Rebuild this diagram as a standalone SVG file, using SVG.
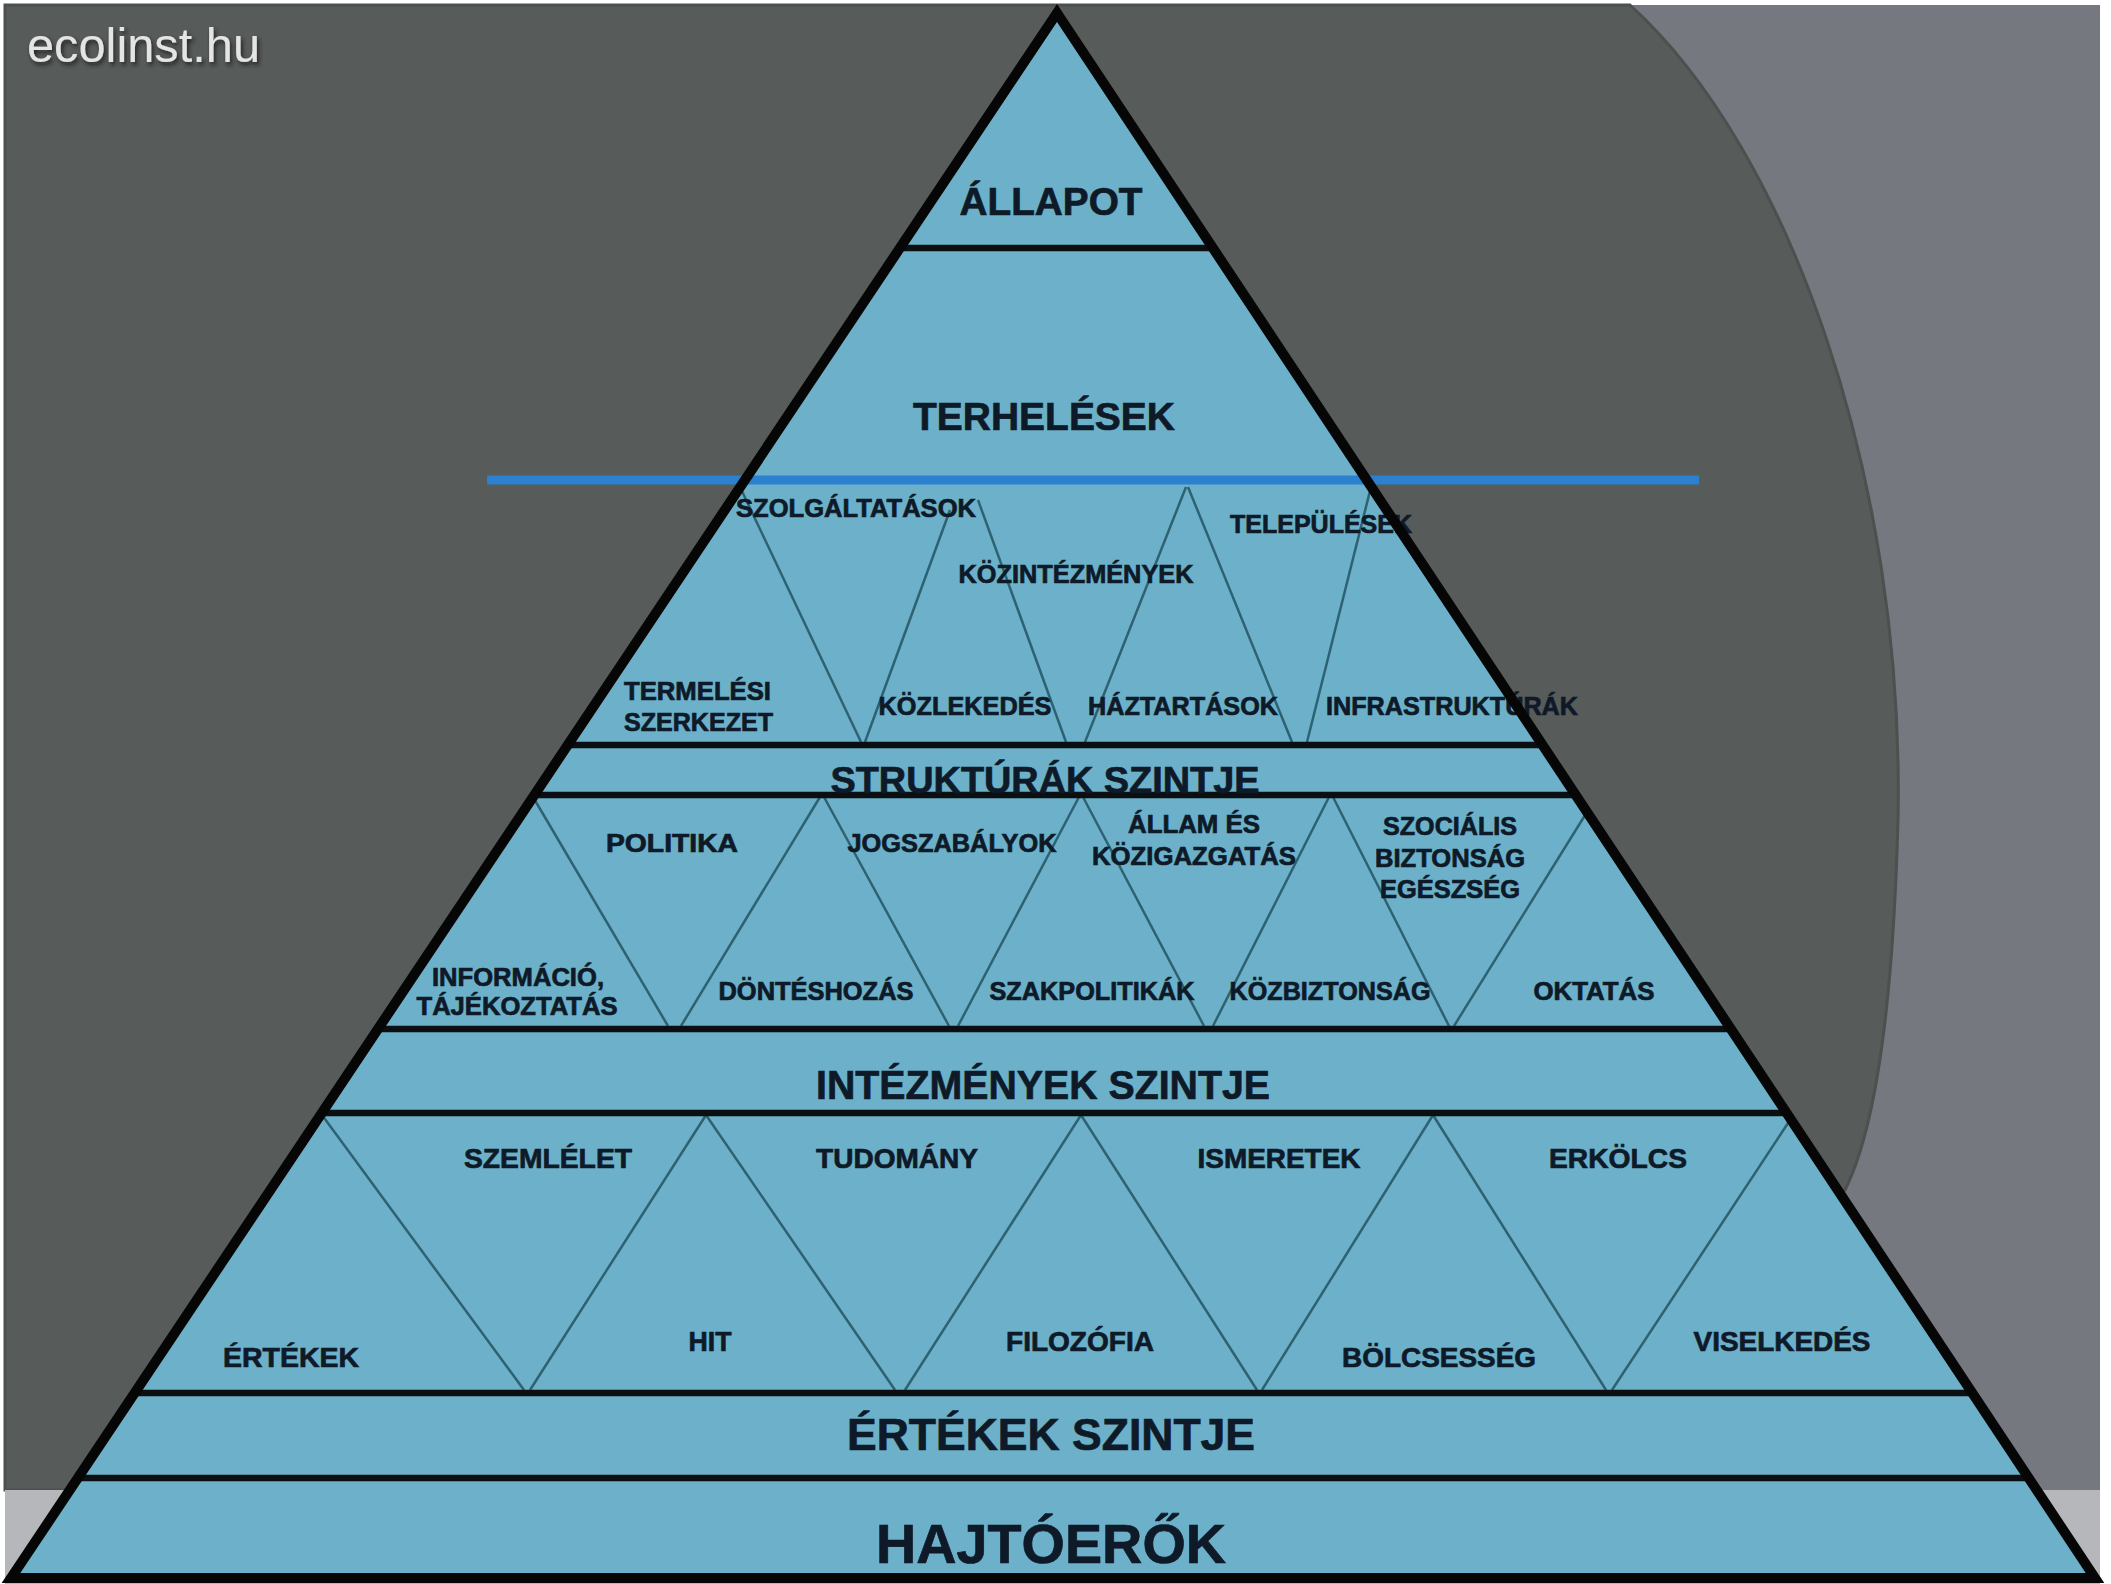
<svg xmlns="http://www.w3.org/2000/svg" width="2111" height="1584" viewBox="0 0 2111 1584">
<style>
.t{font-family:"Liberation Sans",Arial,sans-serif;font-weight:bold;fill:#0e1a28;stroke:#0e1a28;stroke-width:0.7;text-anchor:middle}
.s{font-size:25px}
.m{font-size:28px}
.tl{text-anchor:start}
.hl{stroke:#0b0f12;stroke-width:6.5;fill:none}
.zz{stroke:#2e6272;stroke-width:2.5;fill:none}
</style>
<defs>
<clipPath id="pyr"><polygon points="1057,13 11,1578 2095,1578"/></clipPath>
<filter id="sh" x="-10%" y="-30%" width="130%" height="180%"><feDropShadow dx="2" dy="3" stdDeviation="2" flood-color="#1a1a1a" flood-opacity="0.9"/></filter>
</defs>
<g id="background">
<rect x="0" y="0" width="2111" height="1584" fill="#ffffff"/>
<rect x="5" y="5" width="2095" height="1579" fill="#76787f"/>
<path d="M5,5 H1630 C1790,150 1905,480 1898,820 C1893,1010 1875,1130 1845,1190 L1500,1490 L5,1490 Z" fill="#575b59" stroke="#4c504f" stroke-width="3"/>
<rect x="5" y="1490" width="2095" height="94" fill="#b6b7bb"/>
<text x="27" y="62" font-family="Liberation Sans, Arial, sans-serif" font-size="48" fill="#e4e4e4" textLength="233" lengthAdjust="spacingAndGlyphs" filter="url(#sh)">ecolinst.hu</text>
</g>
<g id="pyramid-body">
<polygon points="1057,13 11,1578 2095,1578" fill="#6cb1c9"/>
</g>
<g id="connectors" clip-path="url(#pyr)">
<line class="zz" x1="740" y1="487" x2="861" y2="742"/>
<line class="zz" x1="865" y1="742" x2="950" y2="510"/>
<line class="zz" x1="978" y1="500" x2="1066" y2="742"/>
<line class="zz" x1="1085" y1="742" x2="1186" y2="487"/>
<line class="zz" x1="1188" y1="487" x2="1292" y2="742"/>
<line class="zz" x1="1307" y1="742" x2="1371" y2="487"/>
<line class="zz" x1="533" y1="797" x2="668" y2="1026"/>
<line class="zz" x1="681" y1="1026" x2="820" y2="797"/>
<line class="zz" x1="824" y1="797" x2="949" y2="1026"/>
<line class="zz" x1="958" y1="1026" x2="1079" y2="797"/>
<line class="zz" x1="1083" y1="797" x2="1204" y2="1026"/>
<line class="zz" x1="1213" y1="1026" x2="1329" y2="797"/>
<line class="zz" x1="1333" y1="797" x2="1449" y2="1026"/>
<line class="zz" x1="1454" y1="1026" x2="1587" y2="812"/>
<line class="zz" x1="322" y1="1115" x2="524" y2="1390"/>
<line class="zz" x1="530" y1="1390" x2="706" y2="1115"/>
<line class="zz" x1="706" y1="1115" x2="895" y2="1390"/>
<line class="zz" x1="905" y1="1390" x2="1081" y2="1115"/>
<line class="zz" x1="1081" y1="1115" x2="1257" y2="1390"/>
<line class="zz" x1="1262" y1="1390" x2="1433" y2="1115"/>
<line class="zz" x1="1433" y1="1115" x2="1606" y2="1390"/>
<line class="zz" x1="1612" y1="1390" x2="1792" y2="1117"/>
</g>
<g id="level-lines" clip-path="url(#pyr)">
<line class="hl" x1="0" y1="248" x2="2111" y2="248"/>
<line class="hl" x1="0" y1="745" x2="2111" y2="745"/>
<line class="hl" x1="0" y1="795" x2="2111" y2="795"/>
<line class="hl" x1="0" y1="1029" x2="2111" y2="1029"/>
<line class="hl" x1="0" y1="1113" x2="2111" y2="1113"/>
<line class="hl" x1="0" y1="1393" x2="2111" y2="1393"/>
<line class="hl" x1="0" y1="1478" x2="2111" y2="1478"/>
</g>
<g id="divider-blue">
<line x1="487" y1="480" x2="1699" y2="480" stroke="#2b80cf" stroke-width="9"/>
</g>
<g id="level-allapot"><text class="t" x="1051" y="215" font-size="38" textLength="183" lengthAdjust="spacingAndGlyphs">ÁLLAPOT</text></g>
<g id="level-terhelesek"><text class="t" x="1044" y="430" font-size="39" textLength="262" lengthAdjust="spacingAndGlyphs">TERHELÉSEK</text></g>
<g id="structures">
<g id="n-szolgaltatasok"><text class="t s" x="856" y="517" textLength="240" lengthAdjust="spacingAndGlyphs">SZOLGÁLTATÁSOK</text></g>
<g id="n-kozintezmenyek"><text class="t s" x="1076" y="583" textLength="235" lengthAdjust="spacingAndGlyphs">KÖZINTÉZMÉNYEK</text></g>
<g id="n-telepulesek"><text class="t s tl" x="1230" y="533" textLength="182" lengthAdjust="spacingAndGlyphs">TELEPÜLÉSEK</text></g>
<g id="n-termelesi"><text class="t s tl" x="624" y="700" textLength="147" lengthAdjust="spacingAndGlyphs">TERMELÉSI</text><text class="t s tl" x="624" y="731" textLength="149" lengthAdjust="spacingAndGlyphs">SZERKEZET</text></g>
<g id="n-kozlekedes"><text class="t s" x="965" y="715" textLength="173" lengthAdjust="spacingAndGlyphs">KÖZLEKEDÉS</text></g>
<g id="n-haztartasok"><text class="t s" x="1183" y="715" textLength="190" lengthAdjust="spacingAndGlyphs">HÁZTARTÁSOK</text></g>
<g id="n-infrastrukturak"><text class="t s tl" x="1326" y="715" textLength="252" lengthAdjust="spacingAndGlyphs">INFRASTRUKTÚRÁK</text></g>
</g>
<g id="level-strukturak"><text class="t" x="1045" y="793" font-size="37" textLength="429" lengthAdjust="spacingAndGlyphs">STRUKTÚRÁK SZINTJE</text></g>
<g id="institutions">
<g id="n-politika"><text class="t s" x="672" y="852" textLength="132" lengthAdjust="spacingAndGlyphs">POLITIKA</text></g>
<g id="n-jogszabalyok"><text class="t s" x="952" y="852" textLength="209" lengthAdjust="spacingAndGlyphs">JOGSZABÁLYOK</text></g>
<g id="n-allam"><text class="t s" x="1194" y="833" textLength="132" lengthAdjust="spacingAndGlyphs">ÁLLAM ÉS</text><text class="t s" x="1194" y="865" textLength="204" lengthAdjust="spacingAndGlyphs">KÖZIGAZGATÁS</text></g>
<g id="n-szocialis"><text class="t s" x="1450" y="835" textLength="134" lengthAdjust="spacingAndGlyphs">SZOCIÁLIS</text><text class="t s" x="1450" y="867" textLength="150" lengthAdjust="spacingAndGlyphs">BIZTONSÁG</text><text class="t s" x="1450" y="898" textLength="140" lengthAdjust="spacingAndGlyphs">EGÉSZSÉG</text></g>
<g id="n-informacio"><text class="t s" x="518" y="986" textLength="172" lengthAdjust="spacingAndGlyphs">INFORMÁCIÓ,</text><text class="t s" x="517" y="1015" textLength="201" lengthAdjust="spacingAndGlyphs">TÁJÉKOZTATÁS</text></g>
<g id="n-donteshozas"><text class="t s" x="816" y="1000" textLength="195" lengthAdjust="spacingAndGlyphs">DÖNTÉSHOZÁS</text></g>
<g id="n-szakpolitikak"><text class="t s" x="1092" y="1000" textLength="205" lengthAdjust="spacingAndGlyphs">SZAKPOLITIKÁK</text></g>
<g id="n-kozbiztonsag"><text class="t s" x="1330" y="1000" textLength="201" lengthAdjust="spacingAndGlyphs">KÖZBIZTONSÁG</text></g>
<g id="n-oktatas"><text class="t s" x="1594" y="1000" textLength="121" lengthAdjust="spacingAndGlyphs">OKTATÁS</text></g>
</g>
<g id="level-intezmenyek"><text class="t" x="1043" y="1099" font-size="41" textLength="454" lengthAdjust="spacingAndGlyphs">INTÉZMÉNYEK SZINTJE</text></g>
<g id="values">
<g id="n-szemlelet"><text class="t m" x="548" y="1168" textLength="168" lengthAdjust="spacingAndGlyphs">SZEMLÉLET</text></g>
<g id="n-tudomany"><text class="t m" x="897" y="1168" textLength="162" lengthAdjust="spacingAndGlyphs">TUDOMÁNY</text></g>
<g id="n-ismeretek"><text class="t m" x="1279" y="1168" textLength="163" lengthAdjust="spacingAndGlyphs">ISMERETEK</text></g>
<g id="n-erkolcs"><text class="t m" x="1618" y="1168" textLength="138" lengthAdjust="spacingAndGlyphs">ERKÖLCS</text></g>
<g id="n-ertekek"><text class="t m" x="291" y="1367" textLength="136" lengthAdjust="spacingAndGlyphs">ÉRTÉKEK</text></g>
<g id="n-hit"><text class="t m" x="710" y="1351" textLength="43" lengthAdjust="spacingAndGlyphs">HIT</text></g>
<g id="n-filozofia"><text class="t m" x="1080" y="1351" textLength="148" lengthAdjust="spacingAndGlyphs">FILOZÓFIA</text></g>
<g id="n-bolcsesseg"><text class="t m" x="1439" y="1367" textLength="194" lengthAdjust="spacingAndGlyphs">BÖLCSESSÉG</text></g>
<g id="n-viselkedes"><text class="t m" x="1782" y="1351" textLength="177" lengthAdjust="spacingAndGlyphs">VISELKEDÉS</text></g>
</g>
<g id="level-ertekek"><text class="t" x="1051" y="1450" font-size="44" textLength="408" lengthAdjust="spacingAndGlyphs">ÉRTÉKEK SZINTJE</text></g>
<g id="level-hajtoerok"><text class="t" x="1051" y="1563" font-size="55" textLength="350" lengthAdjust="spacingAndGlyphs">HAJTÓERŐK</text></g>
<g id="pyramid-outline">
<polygon points="1057,13 11,1578 2095,1578" fill="none" stroke="#060606" stroke-width="10" stroke-linejoin="miter"/>
</g>
</svg>
